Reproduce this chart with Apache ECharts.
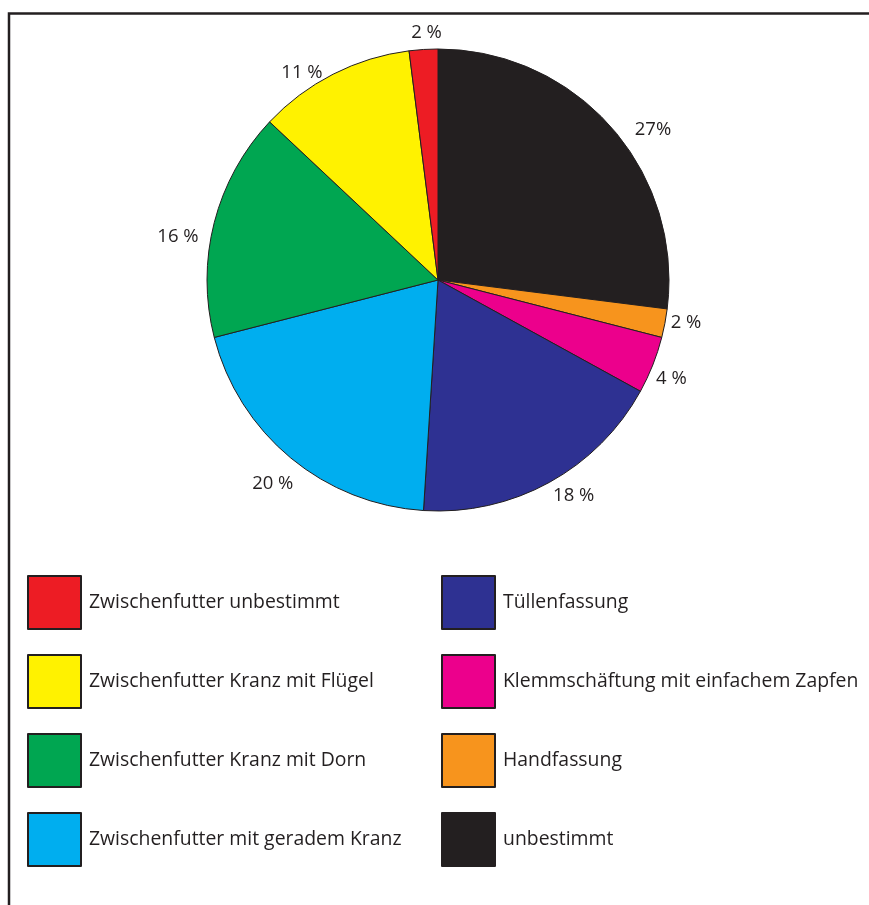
<!DOCTYPE html>
<html>
<head>
<meta charset="utf-8">
<script src="https://cdn.jsdelivr.net/npm/echarts@6/dist/echarts.min.js"></script>
<style>
  html, body { margin: 0; padding: 0; background: #ffffff; }
  #chart { width: 869px; height: 905px; }
</style>
</head>
<body>
<div id="chart"></div>
<script>
// Shares of hafting types (percent), clockwise from 12 o'clock
const categories = [
  'unbestimmt',
  'Handfassung',
  'Klemmschäftung mit einfachem Zapfen',
  'Tüllenfassung',
  'Zwischenfutter mit geradem Kranz',
  'Zwischenfutter Kranz mit Dorn',
  'Zwischenfutter Kranz mit Flügel',
  'Zwischenfutter unbestimmt'
];
const shares = [27, 2, 4, 18, 20, 16, 11, 2];
const sliceColors = ['#231F20', '#F7941D', '#EC008C', '#2E3192', '#00AEEF', '#00A651', '#FFF200', '#ED1C24'];

// Legend columns
const legendLeft = [
  'Zwischenfutter unbestimmt',
  'Zwischenfutter Kranz mit Flügel',
  'Zwischenfutter Kranz mit Dorn',
  'Zwischenfutter mit geradem Kranz'
];
const legendRight = [
  'Tüllenfassung',
  'Klemmschäftung mit einfachem Zapfen',
  'Handfassung',
  'unbestimmt'
];

// Small nudges for the percentage labels around the rim
const labelNudge = [[12, 9], [-8, -2], [-10, 10], [-5, 5], [13, 18], [-2, 17], [-2, 7], [23, -7]];

const ink = '#231F20';
const font = '"Open Sans", "Noto Sans", sans-serif';

const chart = echarts.init(document.getElementById('chart'), null, { renderer: 'canvas' });

const legendCommon = {
  orient: 'vertical',
  top: 575,
  padding: 0,
  itemWidth: 53,
  itemHeight: 53,
  itemGap: 24,
  icon: 'rect',
  selectedMode: false,
  textStyle: { fontFamily: font, fontSize: 19.4, color: ink, padding: [5, 0, 0, 3] }
};

chart.setOption({
  backgroundColor: '#ffffff',
  animation: false,
  legend: [
    Object.assign({}, legendCommon, { left: 27, data: legendLeft }),
    Object.assign({}, legendCommon, { left: 441, data: legendRight })
  ],
  graphic: [{
    type: 'polyline',
    shape: { points: [[9, 905], [9, 13.5], [869, 13.5]] },
    style: { stroke: ink, lineWidth: 2.5, fill: null }
  }],
  series: [{
    type: 'pie',
    center: [438, 280],
    radius: 231,
    startAngle: 90,
    clockwise: true,
    avoidLabelOverlap: false,
    itemStyle: { borderColor: ink, borderWidth: 1 },
    label: {
      show: true,
      position: 'outside',
      distanceToLabelLine: 4,
      fontFamily: font,
      fontSize: 18.5,
      color: ink,
      formatter: p => p.value + (p.dataIndex === 0 ? '%' : ' %')
    },
    labelLine: { show: false, length: 10, length2: 0 },
    emphasis: { disabled: true },
    data: categories.map((name, i) => ({
      name: name,
      value: shares[i],
      itemStyle: { color: sliceColors[i] },
      label: { offset: labelNudge[i] }
    }))
  }]
});
</script>
</body>
</html>
